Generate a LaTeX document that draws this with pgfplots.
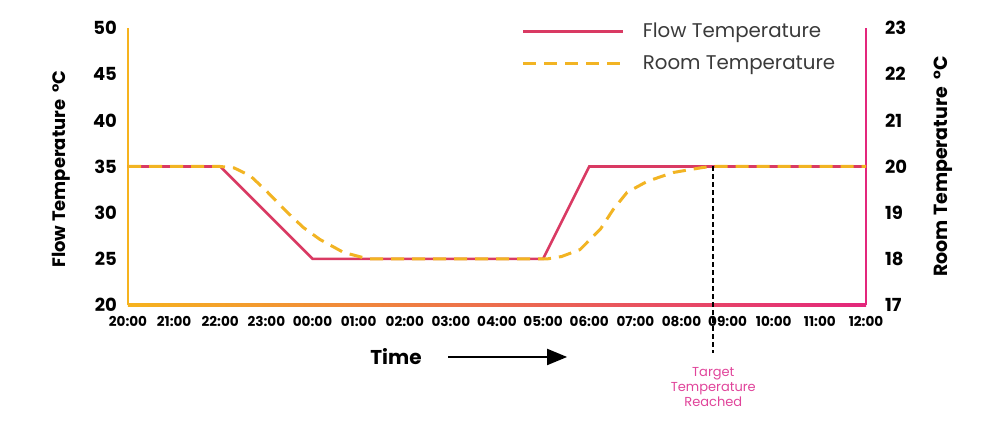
\documentclass[border=0pt]{standalone}
\usepackage{pgfplots}
\pgfplotsset{compat=1.18}
\usepackage{fontspec}
\setmainfont{Poppins}
\usetikzlibrary{arrows.meta}
\definecolor{flowred}{HTML}{D93A63}
\definecolor{roomorange}{HTML}{F2B423}
\definecolor{axisorange}{HTML}{F6B31E}
\definecolor{axispink}{HTML}{E3267C}
\definecolor{labelpink}{HTML}{E0449A}
\definecolor{legendgray}{HTML}{3A3A3A}

\begin{document}
\begin{tikzpicture}
\pgfplotsset{
  every axis/.append style={
    scale only axis, width=369pt, height=138.5pt,
    xmin=0, xmax=16, clip=false,
    major tick length=0pt,
    /pgf/number format/assume math mode=true,
    yticklabel style={font=\bfseries\fontsize{9}{10}\selectfont},
  }
}
\begin{axis}[
  ymin=20, ymax=50, ytick={20,25,...,50},
  axis y line*=left, axis x line*=bottom,
  y axis line style={axisorange, line width=1pt},
  x axis line style={draw=none},
  xtick={0,...,16},
  xticklabels={20:00,21:00,22:00,23:00,00:00,01:00,02:00,03:00,04:00,05:00,06:00,07:00,08:00,09:00,10:00,11:00,12:00},
  xticklabel style={font=\bfseries\fontsize{6.8}{8}\selectfont, yshift=-2pt},
  yticklabel style={xshift=-2pt},
  ylabel={Flow Temperature \,°C},
  every axis y label/.style={at={(rel axis cs:-0.0908,0.49)}, rotate=90, anchor=center,
    font=\bfseries\fontsize{9}{10}\selectfont},
  legend style={at={(0.525,1.05)}, anchor=north west, draw=none, fill=none,
    font=\fontsize{9.9}{11}\selectfont, text=legendgray, row sep=3.5pt},
  legend cell align=left,
  legend image code/.code={\draw[#1] (0pt,0pt) -- (50pt,0pt); \path (57pt,0pt);},
]
% bottom axis line, orange to pink
\fill[left color=axisorange, middle color=flowred!85!axisorange, right color=axispink]
  ([yshift=-0.6pt]rel axis cs:0,0) rectangle ([yshift=0.6pt]rel axis cs:1,0);
\addplot[flowred, line width=1.3pt] coordinates {
  (0,35) (2,35) (4,25) (9,25) (10,35) (16,35)
};
\addlegendentry{Flow Temperature}
\addlegendimage{roomorange, line width=1.5pt, dash pattern=on 6.5pt off 4pt}
\addlegendentry{Room Temperature}
% target line and notes
\draw[black, line width=1pt, dash pattern=on 2.5pt off 1.5pt]
  (axis cs:12.69,35) -- (axis cs:12.69,14.8);
\node[labelpink, align=center, font=\fontsize{6.5}{7.5}\selectfont]
  at (axis cs:12.69,11.12) {Target\\Temperature\\Reached};
\node[font=\bfseries\fontsize{10}{12}\selectfont] at (axis cs:5.81,14.37) {Time};
\draw[black, line width=1pt, -{Triangle[length=10pt,width=8pt]}]
  (axis cs:6.94,14.37) -- (axis cs:9.52,14.37);
\end{axis}
\begin{axis}[
  ymin=17, ymax=23, ytick={17,...,23},
  axis y line*=right, axis x line=none,
  y axis line style={axispink, line width=1pt},
  yticklabel style={xshift=6pt},
  ylabel={Room Temperature \,°C},
  every axis y label/.style={at={(rel axis cs:1.1044,0.5)}, rotate=90, anchor=center,
    font=\bfseries\fontsize{9.5}{10}\selectfont},
]
\addplot[roomorange, line width=1.5pt, dash pattern=on 6.5pt off 4pt] coordinates {
  (0,20) (2,20) (2.3,19.97) (2.65,19.8) (3.0,19.47) (3.44,19.02) (3.8,18.68)
  (4.16,18.42) (4.67,18.14) (5.2,18.0) (9.1,18.0) (9.4,18.05) (9.8,18.2)
  (10.24,18.64) (10.52,19.07) (10.82,19.44) (11.26,19.68) (11.82,19.87)
  (12.47,19.98) (12.69,20) (16,20)
};
\end{axis}
\pgfresetboundingbox
\path (-64pt,-66pt) rectangle (436pt,152.5pt);
\end{tikzpicture}
\end{document}
